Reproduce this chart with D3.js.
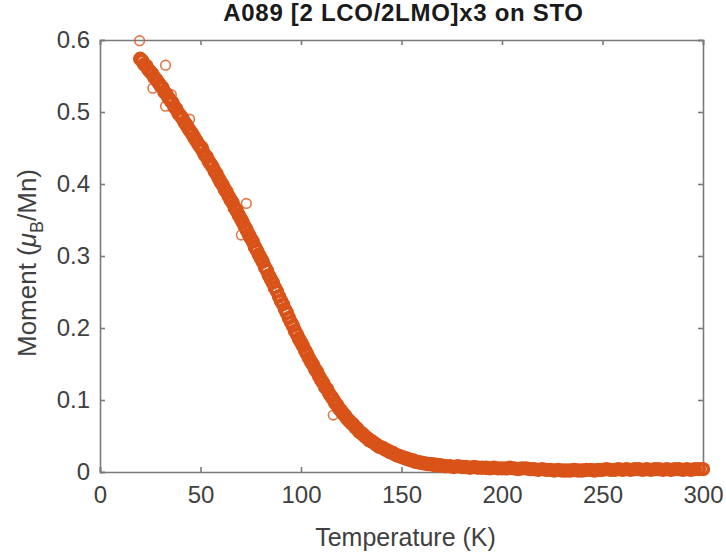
<!DOCTYPE html>
<html>
<head>
<meta charset="utf-8">
<script src="https://cdn.jsdelivr.net/npm/d3@7"></script>
<style>
  body { margin: 0; background: #fff; }
  text { font-family: "Liberation Sans", Arial, Helvetica, sans-serif; }
</style>
</head>
<body>
<div id="chart"></div>
<script>
const margin = { top: 40, right: 23, bottom: 86, left: 100 };
const width = 726 - margin.left - margin.right;
const height = 558 - margin.top - margin.bottom;

// Styling
const markerStroke = "#D95319";
const axisColor = "#7a7a7a";
const tickTextColor = "#404040";

// Data: temperature (K) and moment (muB/Mn)
const temperature = [
  20, 21, 22, 23, 24, 25, 26, 27, 28, 29, 30, 31, 32, 33, 34, 35, 36, 37, 38, 39,
  40, 41, 42, 43, 44, 45, 46, 47, 48, 49, 50, 51, 52, 53, 54, 55, 56, 57, 58, 59,
  60, 61, 62, 63, 64, 65, 66, 67, 68, 69, 70, 71, 72, 73, 74, 75, 76, 77, 78, 79,
  80, 81, 82, 83, 84, 85, 86, 87, 88, 89, 90, 91, 92, 93, 94, 95, 96, 97, 98, 99,
  100, 101, 102, 103, 104, 105, 106, 107, 108, 109, 110, 111, 112, 113, 114, 115, 116, 117, 118, 119,
  120, 121, 122, 123, 124, 125, 126, 127, 128, 129, 130, 131, 132, 133, 134, 135, 136, 137, 138, 139,
  140, 141, 142, 143, 144, 145, 146, 147, 148, 149, 150, 151, 152, 153, 154, 155, 156, 157, 158, 159,
  160, 161, 162, 163, 164, 165, 166, 167, 168, 169, 170,
  172, 174, 176, 178, 180, 182, 184, 186, 188, 190, 192, 194, 196, 198, 200,
  202, 204, 206, 208, 210, 212, 214, 216, 218, 220, 222, 224, 226, 228, 230,
  232, 234, 236, 238, 240, 242, 244, 246, 248, 250, 252, 254, 256, 258, 260,
  262, 264, 266, 268, 270, 272, 274, 276, 278, 280, 282, 284, 286, 288, 290,
  292, 294, 296, 298, 300
];
const moment = [
  0.574, 0.571, 0.566, 0.564, 0.559, 0.556, 0.553, 0.548, 0.545, 0.541, 0.537, 0.534, 0.528, 0.525, 0.520, 0.516, 0.513, 0.507, 0.504, 0.498,
  0.495, 0.491, 0.486, 0.482, 0.477, 0.473, 0.469, 0.464, 0.460, 0.455, 0.451, 0.447, 0.441, 0.438, 0.432, 0.428, 0.424, 0.418, 0.414, 0.408,
  0.403, 0.399, 0.393, 0.389, 0.383, 0.378, 0.374, 0.367, 0.363, 0.357, 0.352, 0.347, 0.341, 0.336, 0.330, 0.325, 0.320, 0.313, 0.308, 0.302,
  0.297, 0.292, 0.285, 0.280, 0.273, 0.268, 0.263, 0.256, 0.251, 0.244, 0.238, 0.233, 0.226, 0.221, 0.214, 0.208, 0.203, 0.196, 0.191, 0.185,
  0.180, 0.175, 0.169, 0.164, 0.158, 0.153, 0.149, 0.143, 0.139, 0.133, 0.128, 0.124, 0.118, 0.115, 0.109, 0.105, 0.101, 0.096, 0.093, 0.088,
  0.085, 0.081, 0.078, 0.074, 0.071, 0.068, 0.066, 0.062, 0.060, 0.056, 0.054, 0.052, 0.049, 0.047, 0.044, 0.043, 0.041, 0.039, 0.037, 0.035,
  0.034, 0.033, 0.031, 0.030, 0.028, 0.027, 0.026, 0.024, 0.023, 0.022, 0.021, 0.020, 0.019, 0.018, 0.017, 0.016, 0.016, 0.014, 0.014, 0.013,
  0.013, 0.012, 0.012, 0.011, 0.011, 0.011, 0.010, 0.010, 0.009, 0.009, 0.009,
  0.008, 0.008, 0.007, 0.008, 0.007, 0.007, 0.006, 0.007, 0.006, 0.006, 0.006, 0.005, 0.006, 0.005, 0.005,
  0.005, 0.006, 0.005, 0.004, 0.005, 0.005, 0.004, 0.004, 0.003, 0.004, 0.003, 0.003, 0.002, 0.003, 0.002,
  0.002, 0.002, 0.003, 0.002, 0.002, 0.003, 0.003, 0.002, 0.003, 0.003, 0.004, 0.003, 0.003, 0.004, 0.003,
  0.004, 0.003, 0.004, 0.004, 0.003, 0.004, 0.003, 0.004, 0.004, 0.003, 0.004, 0.003, 0.004, 0.004, 0.003,
  0.004, 0.003, 0.004, 0.004, 0.004
];
// Stray points sitting off the main band
const strayTemperature = [19.7, 32.6, 26.3, 32.6, 35.5, 44.6, 51.2, 72.8, 70.3, 116];
const strayMoment = [0.599, 0.565, 0.533, 0.508, 0.524, 0.490, 0.452, 0.373, 0.329, 0.079];

const xTicks = [0, 50, 100, 150, 200, 250, 300];
const yTicks = [0, 0.1, 0.2, 0.3, 0.4, 0.5, 0.6];

const chartTitle = "A089 [2 LCO/2LMO]x3 on STO";
const xLabel = "Temperature (K)";

const band = temperature.map((t, i) => ({ t: t, m: moment[i] }));
const strays = strayTemperature.map((t, i) => ({ t: t, m: strayMoment[i] }));

const svg = d3.select("#chart").append("svg")
  .attr("width", 726)
  .attr("height", 558);

const g = svg.append("g")
  .attr("transform", `translate(${margin.left}, ${margin.top})`);

const xScale = d3.scaleLinear().domain([0, 300]).range([0, width]);
const yScale = d3.scaleLinear().domain([0, 0.6]).range([height, 0]);

// Axes (ticks point inwards, box drawn on all four sides)
const xAxis = d3.axisBottom(xScale).tickValues(xTicks).tickSize(-5).tickPadding(14).tickFormat(d3.format("d"));
const yAxis = d3.axisLeft(yScale).tickValues(yTicks).tickSize(-5).tickPadding(10).tickFormat(d => d === 0 ? "0" : d3.format(".1f")(d));
const xTop = d3.axisTop(xScale).tickValues(xTicks).tickSize(-5).tickFormat("");
const yRight = d3.axisRight(yScale).tickValues(yTicks).tickSize(-5).tickFormat("");

function styleAxis(sel) {
  sel.select(".domain").attr("stroke", axisColor).attr("stroke-width", 1.6);
  sel.selectAll(".tick line").attr("stroke", axisColor).attr("stroke-width", 1.6);
  sel.selectAll(".tick text")
    .attr("fill", tickTextColor)
    .style("font-size", "24px")
    .style("font-family", "'Liberation Sans', Arial, sans-serif");
}

g.append("g").attr("transform", `translate(0, ${height})`).call(xAxis).call(styleAxis);
g.append("g").call(yAxis).call(styleAxis);
g.append("g").call(xTop).call(styleAxis);
g.append("g").attr("transform", `translate(${width}, 0)`).call(yRight).call(styleAxis);

// Markers: dense band of open circles
g.selectAll("circle.band")
  .data(band)
  .join("circle")
  .attr("class", "band")
  .attr("cx", d => xScale(d.t))
  .attr("cy", d => yScale(d.m))
  .attr("r", 5.4)
  .attr("fill", "none")
  .attr("stroke", markerStroke)
  .attr("stroke-width", 3.6);

g.selectAll("circle.stray")
  .data(strays)
  .join("circle")
  .attr("class", "stray")
  .attr("cx", d => xScale(d.t))
  .attr("cy", d => yScale(d.m))
  .attr("r", 4.8)
  .attr("fill", "none")
  .attr("stroke", markerStroke)
  .attr("stroke-opacity", 0.8)
  .attr("stroke-width", 1.6);

// Title
svg.append("text")
  .attr("x", margin.left + width / 2 + 2)
  .attr("y", 21)
  .attr("text-anchor", "middle")
  .attr("fill", "#1a1a1a")
  .style("font-size", "24px")
  .style("letter-spacing", "0.7px")
  .style("font-weight", "bold")
  .text(chartTitle);

// X label
svg.append("text")
  .attr("x", margin.left + width / 2 + 4)
  .attr("y", 546)
  .attr("text-anchor", "middle")
  .attr("fill", tickTextColor)
  .style("font-size", "25px")
  .text(xLabel);

// Y label with mu_B subscript
const yLab = svg.append("text")
  .attr("transform", `translate(36, ${margin.top + height / 2 + 7}) rotate(-90)`)
  .attr("text-anchor", "middle")
  .attr("fill", tickTextColor)
  .style("font-size", "26px");
yLab.append("tspan").text("Moment (");
yLab.append("tspan").style("font-style", "italic").text("\u03bc");
yLab.append("tspan").attr("dy", 7).style("font-size", "18px").text("B");
yLab.append("tspan").attr("dy", -7).text("/Mn)");
</script>
</body>
</html>
